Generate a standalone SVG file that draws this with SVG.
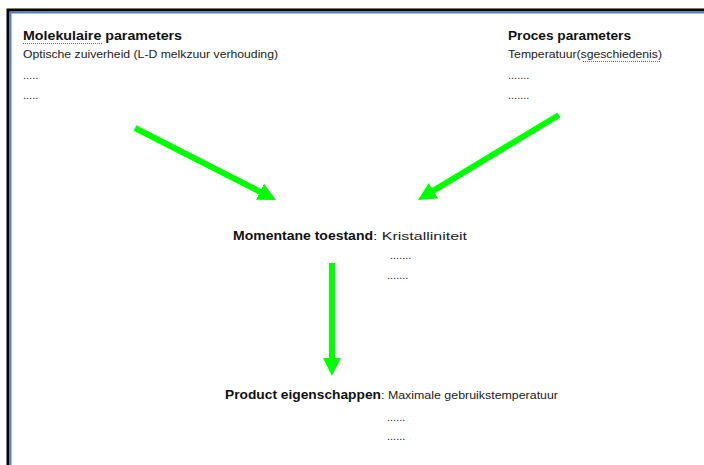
<svg xmlns="http://www.w3.org/2000/svg" width="704" height="465" viewBox="0 0 704 465">
<defs>
<marker id="ah" viewBox="0 0 10 10" refX="1" refY="5" markerWidth="3" markerHeight="3" markerUnits="strokeWidth" orient="auto">
<path d="M0,0 L10,5 L0,10 Z" fill="#00ff00"/>
</marker>
</defs>
<style>
.t{font-family:"Liberation Sans",Arial,sans-serif;font-size:11px;fill:#222}
.b{font-family:"Liberation Sans",Arial,sans-serif;font-size:13px;font-weight:bold;fill:#111}
.c{stroke:#00ff00;stroke-width:6;fill:none;marker-end:url(#ah)}
.sq{stroke:#e04040;stroke-width:1;fill:none;stroke-dasharray:1 1}
</style>
<rect width="704" height="465" fill="#fff"/>
<g id="frame">
<path d="M8,465 V10 H704" fill="none" stroke="#000" stroke-width="3"/>
<path d="M10.5,465 V12.5 H704" fill="none" stroke="#4f81bd" stroke-width="2"/>
</g>
<g id="molekulaire">
<text class="b" x="23" y="40" textLength="159" lengthAdjust="spacingAndGlyphs">Molekulaire parameters</text>
<path class="sq" d="M23,43.5 H103"/>
<text class="t" x="23" y="58" textLength="255" lengthAdjust="spacingAndGlyphs">Optische zuiverheid (L-D melkzuur verhouding)</text>
<text class="t" x="23" y="79">.....</text>
<text class="t" x="23" y="99">.....</text>
</g>
<g id="proces">
<text class="b" x="508" y="40" textLength="123" lengthAdjust="spacingAndGlyphs">Proces parameters</text>
<text class="t" x="508" y="58" textLength="154" lengthAdjust="spacingAndGlyphs">Temperatuur(sgeschiedenis)</text>
<path class="sq" d="M583,61.5 H660"/>
<text class="t" x="508" y="79">.......</text>
<text class="t" x="508" y="99">.......</text>
</g>
<g id="momentane">
<text x="233" y="240"><tspan class="b" textLength="140" lengthAdjust="spacingAndGlyphs">Momentane toestand</tspan><tspan class="t" textLength="94" lengthAdjust="spacingAndGlyphs">: Kristalliniteit</tspan></text>
<text class="t" x="390" y="259">.......</text>
<text class="t" x="387" y="279">.......</text>
</g>
<g id="product">
<text x="225" y="399"><tspan class="b" textLength="156" lengthAdjust="spacingAndGlyphs">Product eigenschappen</tspan><tspan class="t" textLength="177" lengthAdjust="spacingAndGlyphs">: Maximale gebruikstemperatuur</tspan></text>
<text class="t" x="387" y="421">......</text>
<text class="t" x="387" y="440">......</text>
</g>
<g id="connectors">
<line class="c" x1="135" y1="128" x2="261.6" y2="192.6"/>
<line class="c" x1="559" y1="115" x2="431.9" y2="191.6"/>
<line class="c" x1="332" y1="263" x2="332" y2="359.8"/>
</g>
</svg>
